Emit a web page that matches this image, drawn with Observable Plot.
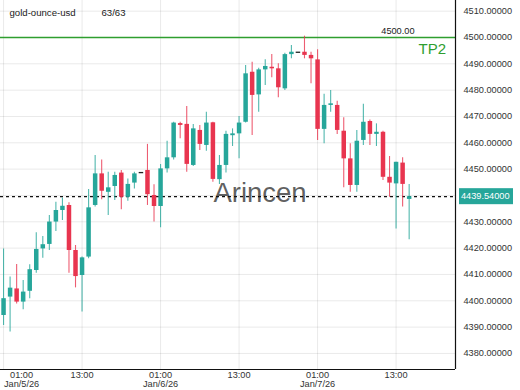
<!DOCTYPE html>
<html>
<head>
<meta charset="utf-8">
<script src="https://cdn.jsdelivr.net/npm/d3@7"></script>
<script src="https://cdn.jsdelivr.net/npm/@observablehq/plot@0.6"></script>
<style>
  html, body { margin: 0; padding: 0; background: #fff; }
  #chart svg { display: block; font-family: "Liberation Sans", Arial, sans-serif; }
  #chart svg .price-tag rect { fill: #26a69a !important; }
  #chart svg .price-tag text { fill: #ffffff !important; text-anchor: start !important; }
</style>
</head>
<body>
<div id="chart"></div>
<script>
// ---- data (hourly candles, gold-ounce-usd) ----
const symbol = "gold-ounce-usd";
const countLabel = "63/63";
const startTime = "2026-01-05T01:00:00Z";
const open = [4394.4, 4401.4, 4404.5, 4399.5, 4403.6, 4411.5, 4419.7, 4421.4, 4429.9, 4434.3, 4436.2, 4419.1, 4409.6, 4416.6, 4436.2, 4448.2, 4441.2, 4443.4, 4448.5, 4439.3, 4444.7, 4448.5, 4449.5, 4440.0, 4435.8, 4450.1, 4454.3, 4467.3, 4467.0, 4451.4, 4464.7, 4459.0, 4467.6, 4446.0, 4451.4, 4462.7, 4463.4, 4467.8, 4486.8, 4478.2, 4487.7, 4488.7, 4488.1, 4480.5, 4493.5, 4494.2, 4494.4, 4493.2, 4491.5, 4465.1, 4474.2, 4474.2, 4464.4, 4453.9, 4443.8, 4460.9, 4468.1, 4463.2, 4464.0, 4446.9, 4444.4, 4452.3, 4438.5];
const close = [4400.8, 4404.8, 4399.5, 4403.3, 4411.8, 4419.5, 4421.3, 4429.9, 4434.3, 4435.9, 4419.1, 4409.2, 4416.3, 4435.3, 4448.2, 4441.6, 4442.9, 4447.6, 4439.3, 4444.2, 4448.2, 4448.5, 4440.3, 4435.8, 4450.1, 4454.3, 4467.5, 4466.6, 4451.8, 4465.3, 4459.4, 4467.5, 4446.1, 4451.4, 4463.2, 4463.4, 4467.5, 4486.2, 4478.0, 4487.7, 4489.0, 4488.1, 4480.9, 4493.5, 4494.4, 4494.2, 4493.2, 4491.9, 4465.1, 4474.2, 4474.8, 4464.7, 4453.9, 4443.8, 4460.6, 4467.8, 4463.2, 4464.0, 4446.9, 4444.7, 4452.6, 4444.2, 4439.54];
const high = [4419.7, 4409.0, 4413.8, 4407.7, 4413.7, 4425.8, 4424.4, 4432.4, 4437.4, 4439.0, 4437.2, 4421.0, 4416.6, 4442.3, 4455.2, 4453.5, 4448.8, 4448.8, 4449.5, 4446.3, 4448.8, 4448.5, 4459.4, 4444.1, 4451.8, 4460.6, 4467.8, 4467.8, 4473.8, 4467.0, 4466.6, 4471.6, 4467.8, 4455.2, 4464.4, 4465.3, 4470.0, 4489.4, 4490.6, 4488.3, 4491.5, 4493.5, 4490.0, 4494.0, 4497.0, 4494.2, 4500.5, 4494.4, 4495.3, 4478.4, 4479.9, 4475.8, 4469.5, 4459.6, 4464.7, 4474.6, 4468.7, 4467.2, 4464.4, 4454.8, 4452.6, 4454.3, 4444.2];
const low = [4390.6, 4388.1, 4398.8, 4396.6, 4400.8, 4410.5, 4416.2, 4419.1, 4426.3, 4430.5, 4410.5, 4404.9, 4395.7, 4416.0, 4435.6, 4438.4, 4432.4, 4438.1, 4434.6, 4437.8, 4442.5, 4448.5, 4436.2, 4429.9, 4427.7, 4448.5, 4453.5, 4461.5, 4448.8, 4451.0, 4457.1, 4456.8, 4445.0, 4444.2, 4448.5, 4458.6, 4453.9, 4467.5, 4462.8, 4471.6, 4481.8, 4484.7, 4477.1, 4479.9, 4491.9, 4494.2, 4491.9, 4482.4, 4460.9, 4459.6, 4471.6, 4463.2, 4442.9, 4441.2, 4441.2, 4459.0, 4459.0, 4458.6, 4445.7, 4439.3, 4427.3, 4435.6, 4423.2];

const lastPrice = 4439.54;
const tpLevel = 4500;
const tpName = "TP2";
const tpText = "4500.00";
const watermark = "Arincen";

const yTicks = [4380, 4390, 4400, 4410, 4420, 4430, 4440, 4450, 4460, 4470, 4480, 4490, 4500, 4510];
const yLabelTicks = [4380, 4390, 4400, 4410, 4420, 4430, 4450, 4460, 4470, 4480, 4490, 4500, 4510];
const xTickTimes = ["2026-01-05T01:00:00Z", "2026-01-05T13:00:00Z", "2026-01-06T01:00:00Z", "2026-01-06T13:00:00Z", "2026-01-07T01:00:00Z", "2026-01-07T13:00:00Z"];
const xTickLabels = ["01:00\nJan/5/26", "13:00", "01:00\nJan/6/26", "13:00", "01:00\nJan/7/26", "13:00"];

// ---- build table ----
const t0 = new Date(startTime);
const candles = open.map((o, i) => {
  const c = close[i];
  let top = Math.max(o, c), bot = Math.min(o, c);
  if (top - bot < 0.5) { const m = (top + bot) / 2; top = m + 0.25; bot = m - 0.25; }
  return {
    t: d3.utcHour.offset(t0, i), open: o, close: c, high: high[i], low: low[i],
    top, bot, dir: c > o ? "up" : c < o ? "down" : "flat"
  };
});
const xTicks = xTickTimes.map(s => new Date(s));
const xTicksRest = xTicks.slice(1);

const GREEN = "#26a69a";
const RED = "#e8354f";
const TPGREEN = "#2f9e2f";
const colorOf = d => d.dir === "up" ? GREEN : d.dir === "down" ? RED : "#222";

const W = 520, H = 390, mR = 65, mB = 21;
const xDomain = [d3.utcMinute.offset(t0, -28), d3.utcMinute.offset(t0, 69 * 60 + 5)];
const yDomain = [4373.9, 4514.05];

const chart = Plot.plot({
  width: W, height: H,
  marginLeft: 0, marginRight: mR, marginTop: 0, marginBottom: mB,
  style: { fontFamily: "Liberation Sans, Arial, sans-serif", fontSize: "9.2px", color: "#333", background: "#fff" },
  x: { type: "utc", domain: xDomain, axis: null },
  y: { domain: yDomain, axis: null },
  marks: [
    Plot.gridY(yTicks, { stroke: "#000", strokeOpacity: 0.085 }),
    Plot.gridX(xTicks, { stroke: "#000", strokeOpacity: 0.085 }),
    Plot.text([watermark], { frameAnchor: "middle", dx: 32, dy: 8, fontSize: 27.5, fill: "#444", fillOpacity: 0.85, text: d => d }),
    Plot.ruleY([tpLevel], { y: d => d, stroke: () => "tp", strokeWidth: 1.3 }),
    Plot.text([tpLevel], { y: d => d, frameAnchor: "right", dx: -41, dy: -6, textAnchor: "end", fill: "#222", fontSize: 9.2, text: () => tpText }),
    Plot.text([tpLevel], { y: d => d, frameAnchor: "right", dx: -37, dy: 12, textAnchor: "start", fill: TPGREEN, fontSize: 15, text: () => tpName }),
    Plot.ruleY([lastPrice], { stroke: "#111", strokeWidth: 1.2, strokeDasharray: "3,3" }),
    Plot.ruleX(candles, { x: "t", y1: "low", y2: "high", stroke: colorOf, strokeWidth: 1.1, strokeOpacity: 0.8 }),
    Plot.ruleX(candles, { x: "t", y1: "bot", y2: "top", stroke: colorOf, strokeWidth: 4.5 }),
    Plot.ruleX([xDomain[1]], { stroke: "#111", strokeWidth: 1.2 }),
    Plot.ruleY([yDomain[0]], { stroke: "#111", strokeWidth: 1.2 }),
    Plot.axisY(yLabelTicks, { anchor: "right", tickSize: 0, tickPadding: 8, tickFormat: d => d.toFixed(5), fill: "#333", fontSize: 9.2 }),
    Plot.text([xTicks[0]], { x: d => d, frameAnchor: "bottom", dy: 2, dx: 18, lineAnchor: "top", fill: "#333", fontSize: 9.2, text: () => xTickLabels[0] }),
    Plot.text(xTicksRest, { x: d => d, frameAnchor: "bottom", dy: 2, lineAnchor: "top", fill: "#333", fontSize: 9.2, text: (d, i) => xTickLabels[i + 1] }),
    Plot.text([symbol], { frameAnchor: "top-left", dx: 9, dy: 12, lineAnchor: "middle", fill: "#222", fontSize: 9.6, text: d => d }),
    Plot.text([countLabel], { frameAnchor: "top-left", dx: 101, dy: 12, lineAnchor: "middle", fill: "#222", fontSize: 9.6, text: d => d })
  ],
  color: { type: "ordinal", domain: ["tp"], range: [TPGREEN] }
});

// last-price tag in the right margin, positioned through Plot's own y scale
const yPx = chart.scale("y").apply(lastPrice);
const xRight = W - mR;
const NS = "http://www.w3.org/2000/svg";
const g = document.createElementNS(NS, "g");
g.setAttribute("class", "price-tag");
const r = document.createElementNS(NS, "rect");
r.setAttribute("x", xRight + 4); r.setAttribute("y", yPx - 8);
r.setAttribute("width", 54); r.setAttribute("height", 16);
r.setAttribute("fill", GREEN); r.setAttribute("style", "fill:" + GREEN);
const tx = document.createElementNS(NS, "text");
tx.setAttribute("x", xRight + 6); tx.setAttribute("y", yPx + 3.2);
tx.setAttribute("text-anchor", "start");
tx.setAttribute("style", "fill:#ffffff;text-anchor:start;font-size:9.2px");
tx.textContent = lastPrice.toFixed(5);
g.appendChild(r); g.appendChild(tx);
chart.appendChild(g);

document.getElementById("chart").appendChild(chart);
</script>
</body>
</html>
